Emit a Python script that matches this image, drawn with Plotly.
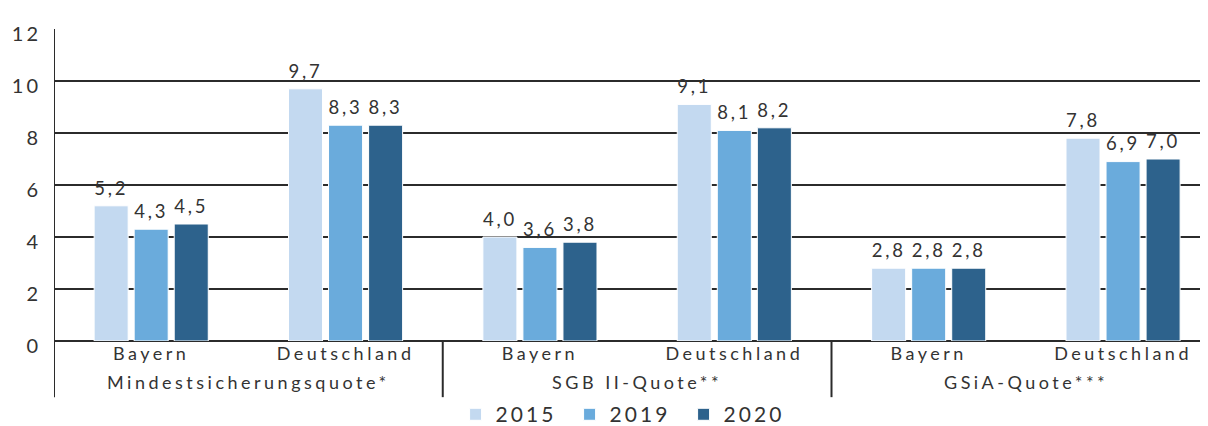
import plotly.graph_objects as go

categories = ["Bayern", "Deutschland", "Bayern", "Deutschland", "Bayern", "Deutschland"]
groups = ["Mindestsicherungsquote*", "SGB II-Quote**", "GSiA-Quote***"]
years = ["2015", "2019", "2020"]
v2015 = [5.2, 9.7, 4.0, 9.1, 2.8, 7.8]
v2019 = [4.3, 8.3, 3.6, 8.1, 2.8, 6.9]
v2020 = [4.5, 8.3, 3.8, 8.2, 2.8, 7.0]
colors = ["#c3d9f0", "#6aabdc", "#2d628c"]
yticks = [0, 2, 4, 6, 8, 10, 12]

FONT = "Lato"
TXT = "#333333"
LINE = "#2b2b2b"


def ls(s, px=3.5):
    return f"<span style='letter-spacing:{px}px'>{s}</span>"


x = list(range(len(categories)))

fig = go.Figure()
for name, vals, c in zip(years, [v2015, v2019, v2020], colors):
    fig.add_trace(go.Bar(
        x=x, y=vals, name=ls(name, 3),
        marker=dict(color=c, line=dict(color="white", width=1)),
        text=vals,
        texttemplate="<span style='font-size:20px;letter-spacing:3px'>%{y:.1f}</span><br> ",
        textposition="outside",
        textfont=dict(size=6, color=TXT, family=FONT),
        cliponaxis=False,
    ))

# figure is drawn 8px in from the page's top-left corner (page body margin)
fig.update_layout(
    width=1200, height=418,
    margin=dict(l=46, r=0, t=21, b=85, autoexpand=False),
    paper_bgcolor="white", plot_bgcolor="white",
    barmode="group", bargap=0.382, bargroupgap=0.15,
    separators=",.",
    font=dict(family=FONT, color=TXT, size=18),
    showlegend=True,
    legend=dict(orientation="h", x=0.348, xanchor="left", y=-0.236, yanchor="middle",
                font=dict(size=21, color=TXT, family=FONT), itemwidth=30,
                traceorder="normal", entrywidth=69, entrywidthmode="pixels",
                tracegroupgap=0),
)
fig.update_xaxes(
    range=[-0.5, 5.437], tickvals=x, ticktext=[ls(c) for c in categories],
    tickfont=dict(size=18, color=TXT, family=FONT), automargin=False,
    showgrid=False, zeroline=False, showline=False, ticks="",
)
fig.update_yaxes(
    range=[0, 12], tickvals=yticks, ticktext=[ls(str(t), 3) for t in yticks], ticks="",
    tickfont=dict(size=20, color=TXT, family=FONT), automargin=False,
    showgrid=True, gridcolor=LINE, gridwidth=1.6,
    zeroline=True, zerolinecolor=LINE, zerolinewidth=1.6,
    showline=False, ticklabelstandoff=12, ticklabelshift=5,
)

# left axis line and group separators extending below the axis
for xv in [-0.5, 1.5, 3.5]:
    fig.add_shape(type="line", xref="x", yref="paper", x0=xv, x1=xv,
                  y0=1 if xv == -0.5 else 0, y1=-0.18,
                  line=dict(color=LINE, width=2), layer="above")

for i, g in enumerate(groups):
    fig.add_annotation(x=2 * i + 0.5, y=-0.132, xref="x", yref="paper", text=ls(g),
                       showarrow=False, yanchor="middle",
                       font=dict(size=18, color=TXT, family=FONT))

fig.write_html("out.html")
